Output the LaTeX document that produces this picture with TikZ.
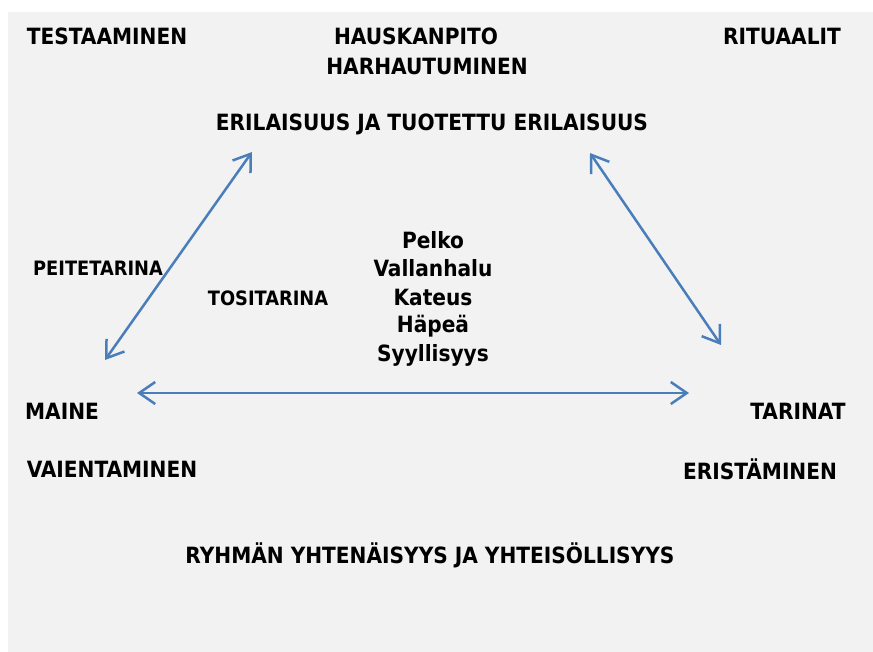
\documentclass[tikz,border=0pt]{standalone}
\usepackage{fontspec}
\setmainfont{DejaVu Sans Condensed}
\usetikzlibrary{arrows.meta}
\definecolor{bgray}{HTML}{F2F2F2}
\definecolor{lineblue}{HTML}{4A7EBB}
\tikzset{
    word/.style={font=\bfseries\fontsize{22.4}{26}\selectfont, inner sep=0pt},
    smallword/.style={font=\bfseries\fontsize{19.8}{23}\selectfont, inner sep=0pt},
    link/.style={draw=lineblue, line width=2.5pt, {Straight Barb[length=16pt,width=22pt]}-{Straight Barb[length=16pt,width=22pt]}}
}
\begin{document}
\begin{tikzpicture}[x=1pt, y=-1pt]
        \useasboundingbox (0,0) rectangle (873,652);
        \fill[bgray] (8,12) rectangle (873,652);
        % kulmat
        \node[word] (testaus) at (107,36) {TESTAAMINEN};
        \node[word] (hauskuus) at (416,36) {HAUSKANPITO};
        \node[word] (harhautus) at (427,66) {HARHAUTUMINEN};
        \node[word] (rituaalit) at (782,36) {RITUAALIT};
        \node[word] (erilaisuus) at (432,124) {ERILAISUUS JA TUOTETTU ERILAISUUS};
        \node[smallword] (peite) at (98,268) {PEITETARINA};
        \node[smallword] (tosi) at (268,298) {TOSITARINA};
        \foreach \t/\y in {Pelko/240, Vallanhalu/268, Kateus/297, Häpeä/326, Syyllisyys/355}
            {
                \node[word] (tunne-\y) at (433,\y) {\t};
            }
        \node[word] (maine) at (62,411) {MAINE};
        \node[word] (tarinat) at (798,411) {TARINAT};
        \node[word] (vaiennus) at (112,469) {VAIENTAMINEN};
        \node[word] (eristys) at (760,469) {ERISTÄMINEN};
        \node[word] (ryhma) at (430,555) {RYHMÄN YHTENÄISYYS JA YHTEISÖLLISYYS};
        % nuolet
        \coordinate (vasen-ala) at (105,360);
        \coordinate (vasen-yla) at (252,152);
        \coordinate (oikea-yla) at (590,153);
        \coordinate (oikea-ala) at (721,345);
        \coordinate (vaaka-a) at (137,393);
        \coordinate (vaaka-b) at (689,393);
        \draw[link] (vasen-ala)--(vasen-yla);
        \draw[link] (oikea-yla)--(oikea-ala);
        \draw[link] (vaaka-a)--(vaaka-b);
    \end{tikzpicture}
\end{document}
